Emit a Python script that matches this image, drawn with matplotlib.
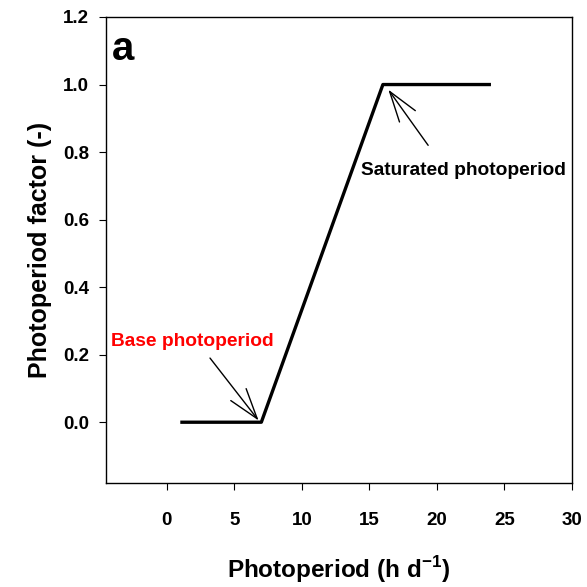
import matplotlib
matplotlib.use("Agg")
import matplotlib.pyplot as plt

# photoperiod response curve
photoperiod = [1, 7, 16, 24]
factor = [0.0, 0.0, 1.0, 1.0]

x_ticks = [0, 5, 10, 15, 20, 25, 30]
y_ticks = [0.0, 0.2, 0.4, 0.6, 0.8, 1.0, 1.2]

plt.rcParams["font.family"] = ["Liberation Sans", "DejaVu Sans"]
plt.rcParams["font.weight"] = "bold"
plt.rcParams["mathtext.fontset"] = "custom"
plt.rcParams["mathtext.rm"] = "Liberation Sans:bold"
plt.rcParams["mathtext.bf"] = "Liberation Sans:bold"

fig = plt.figure(figsize=(5.87, 5.87), dpi=100)
ax = fig.add_axes([106 / 587, 1 - 483 / 587, 466 / 587, 466 / 587])

ax.plot(photoperiod, factor, color="black", lw=2.4, solid_capstyle="butt")

ax.set_xlim(-4.5, 30)
ax.set_ylim(-0.18, 1.2)
ax.set_xticks(x_ticks)
ax.set_yticks(y_ticks)
ax.set_yticklabels(["%.1f" % v for v in y_ticks])
ax.tick_params(axis="x", direction="out", length=5, pad=16, labelsize=13.5)
ax.tick_params(axis="y", direction="out", length=5, pad=7, labelsize=13.5)
for lab in ax.get_xticklabels() + ax.get_yticklabels():
    lab.set_fontweight("bold")
for s in ax.spines.values():
    s.set_linewidth(1.0)

ax.set_xlabel("Photoperiod (h d$^{\\mathbf{-1}}$)", fontsize=17.5, fontweight="bold", labelpad=18)
ax.set_ylabel("Photoperiod factor (-)", fontsize=18, fontweight="bold", labelpad=8)

ax.text(-4.1, 1.105, "a", fontsize=29, fontweight="bold", va="center", ha="left")

arrow = dict(arrowstyle="->,head_length=2.2,head_width=0.7", color="black", lw=1.0,
             shrinkA=0, shrinkB=0)
ax.annotate("", xy=(6.8, 0.005), xytext=(3.2, 0.19), arrowprops=arrow)
ax.annotate("", xy=(16.4, 0.985), xytext=(19.35, 0.82), arrowprops=arrow)

ax.text(-4.1, 0.24, "Base photoperiod", color="red", fontsize=13.8,
        fontweight="bold", va="center", ha="left")
ax.text(14.4, 0.745, "Saturated photoperiod", color="black", fontsize=13.8,
        fontweight="bold", va="center", ha="left")

fig.savefig("out.png", dpi=100)
